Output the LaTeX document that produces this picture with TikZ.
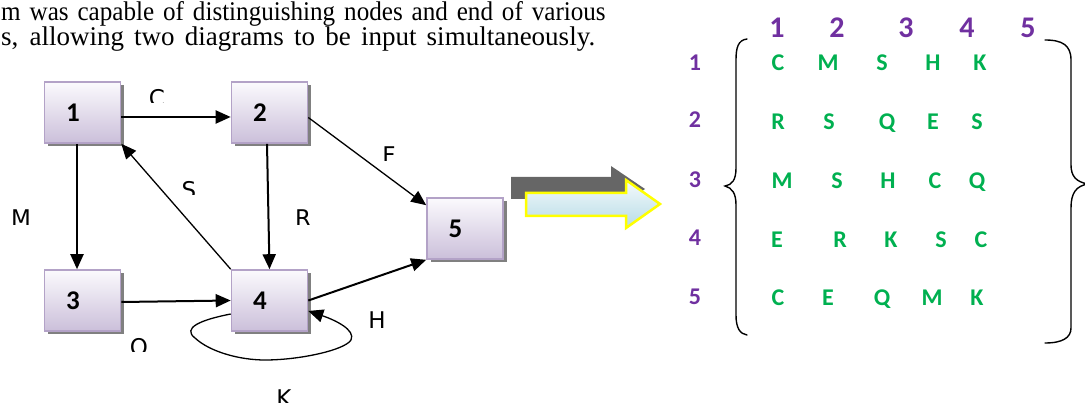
\documentclass[tikz,border=0pt]{standalone}
\usepackage{fontspec}
\setmainfont{Liberation Serif}
\newfontfamily\calib{Carlito}
\newfontfamily\labfont{DejaVu Sans}
\usetikzlibrary{arrows.meta,shadows}
\definecolor{boxtop}{HTML}{FBFAFD}
\definecolor{boxbot}{HTML}{CBBFDA}
\definecolor{boxline}{HTML}{B3A2C7}
\definecolor{mpurple}{HTML}{7030A0}
\definecolor{mgreen}{HTML}{00B050}
\definecolor{arrtop}{HTML}{F5FAFC}
\definecolor{arrbot}{HTML}{B6DCE6}
\definecolor{arrline}{HTML}{FFFF00}
\begin{document}
\begin{tikzpicture}[x=1pt,y=-1pt,
  gbox/.style={draw=boxline, line width=1.6pt, top color=boxtop, bottom color=boxbot,
    minimum width=76pt, minimum height=61pt, inner sep=0pt,
    font=\calib\bfseries\fontsize{27}{30}\selectfont,
    drop shadow={shadow xshift=3.5pt, shadow yshift=-3.5pt, fill=black!50, opacity=1}},
  thk/.style={line width=2pt, -{Triangle[length=15pt,width=13pt]}},
  thn/.style={line width=1.3pt, -{Triangle[length=15pt,width=13pt]}},
  elab/.style={font=\labfont\fontsize{23}{26}\selectfont, anchor=north, inner sep=0pt},
  toptext/.style={anchor=base west, inner sep=0pt, font=\fontsize{27}{30}\selectfont},
  hnum/.style={anchor=base, inner sep=0pt, text=mpurple, font=\calib\bfseries\fontsize{30}{33}\selectfont},
  rnum/.style={anchor=base, inner sep=0pt, text=mpurple, font=\calib\bfseries\fontsize{24}{27}\selectfont},
  glet/.style={anchor=base, inner sep=0pt, text=mgreen, font=\calib\bfseries\fontsize{24}{27}\selectfont},
  brace/.style={line width=1.4pt, line cap=round}
]
\useasboundingbox (0,0) rectangle (1085,403);

% top text
\node[toptext] (t1) at (1,21) {\scalebox{0.93}[1]{\makebox[650pt][s]{m was capable of distinguishing nodes and end of various}}};
\node[toptext] (t2) at (1,46) {\makebox[594pt][s]{s, allowing two diagrams to be input simultaneously.}};

% graph nodes
\node[gbox] (n1) at (82.5,112.5) {1\rule{19pt}{0pt}};
\node[gbox] (n2) at (269.5,112.5) {2\rule{19pt}{0pt}};
\node[gbox] (n3) at (82.5,300.5) {3\rule{19pt}{0pt}};
\node[gbox] (n4) at (269.5,300.5) {4\rule{19pt}{0pt}};
\node[gbox] (n5) at (465,228.5) {5\rule{19pt}{0pt}};

% edges
\draw[thk] ([yshift=-4.5pt]n1.east) -- ([yshift=-4.5pt]n2.west);
\draw[thk] ([xshift=-5.5pt]n1.south) -- ([xshift=-5.5pt]n3.north);
\draw[thk] ([xshift=-2.5pt]n2.south) -- (n4.north);
\draw[thn] (n4.north west) -- (n1.south east);
\draw[thn] ([yshift=-5pt]n2.east) -- ([yshift=-8pt]n5.north west);
\draw[thk] ([yshift=-1.5pt]n3.east) -- (n4.west);
\draw[thk] (n4.east) -- (n5.south west);
\coordinate (la) at ([yshift=-13.5pt]n4.west);
\coordinate (lb) at ([yshift=-10.5pt]n4.east);
\draw[thn] (la) .. controls (200,320) and (182,328) .. (195,338)
  .. controls (210,352) and (240,360) .. (265,360)
  .. controls (300,360) and (345,350) .. (351,340)
  .. controls (356,330) and (335,320) .. (lb);

% edge labels (clipped as in the picture)
\begin{scope}\clip (140,80) rectangle (175,103); \node[elab] (lC) at (157,89) {C}; \end{scope}
\begin{scope}\clip (175,170) rectangle (205,195); \node[elab] (lS) at (189,181) {S}; \end{scope}
\begin{scope}\clip (0,200) rectangle (40,225); \node[elab] (lM) at (21,210) {M}; \end{scope}
\begin{scope}\clip (290,200) rectangle (320,225); \node[elab] (lR) at (303,210) {R}; \end{scope}
\begin{scope}\clip (375,140) rectangle (405,161); \node[elab] (lF) at (389,147) {F}; \end{scope}
\begin{scope}\clip (125,330) rectangle (155,352); \node[elab] (lO) at (139,338) {O}; \end{scope}
\node[elab] (lH) at (377,312) {H};
\node[elab] (lK) at (284,390) {K};

% big arrow: shadow then body
\draw[fill=black!60, draw=none] (511,177) -- (611,177) -- (611,166) -- (645,189) -- (611,213) -- (611,199) -- (511,199) -- cycle;
\draw[draw=arrline, line width=2.5pt, top color=arrtop, bottom color=arrbot, line join=miter]
  (526,193) -- (626,193) -- (626,180) -- (660,204) -- (626,228) -- (626,216) -- (526,216) -- cycle;

% matrix header
\node[hnum] (h1) at (777,38) {1};
\node[hnum] (h2) at (837,38) {2};
\node[hnum] (h3) at (906,38) {3};
\node[hnum] (h4) at (967,38) {4};
\node[hnum] (h5) at (1028,38) {5};
% row numbers
\node[rnum] (r1) at (695,70.5) {1};
\node[rnum] (r2) at (695,128) {2};
\node[rnum] (r3) at (695,187.5) {3};
\node[rnum] (r4) at (695,245.5) {4};
\node[rnum] (r5) at (695,304.5) {5};
% letters
\node[glet] (m11) at (778,71) {C};
\node[glet] (m12) at (828,71) {M};
\node[glet] (m13) at (882,71) {S};
\node[glet] (m14) at (933,71) {H};
\node[glet] (m15) at (980,71) {K};
\node[glet] (m21) at (778,130) {R};
\node[glet] (m22) at (829,130) {S};
\node[glet] (m23) at (887,130) {Q};
\node[glet] (m24) at (933,130) {E};
\node[glet] (m25) at (977,130) {S};
\node[glet] (m31) at (782,189) {M};
\node[glet] (m32) at (837,189) {S};
\node[glet] (m33) at (888,189) {H};
\node[glet] (m34) at (935,189) {C};
\node[glet] (m35) at (977,189) {Q};
\node[glet] (m41) at (777,248) {E};
\node[glet] (m42) at (840,248) {R};
\node[glet] (m43) at (891,248) {K};
\node[glet] (m44) at (941,248) {S};
\node[glet] (m45) at (981,248) {C};
\node[glet] (m51) at (778,306) {C};
\node[glet] (m52) at (828,306) {E};
\node[glet] (m53) at (882,306) {Q};
\node[glet] (m54) at (932,306) {M};
\node[glet] (m55) at (977,306) {K};

% braces
\draw[brace] (747,39) .. controls (738,40) and (736,48) .. (736,60)
  -- (736,168) .. controls (736,180) and (732,185) .. (725,186)
  .. controls (732,188) and (736,193) .. (736,205)
  -- (736,315) .. controls (736,328) and (740,334) .. (747,335);
\draw[brace] (1045,40) .. controls (1062,40) and (1071,45) .. (1071,60)
  -- (1071,165) .. controls (1071,176) and (1076,182) .. (1088,184)
  .. controls (1076,186) and (1071,193) .. (1071,208)
  -- (1071,328) .. controls (1071,338) and (1062,343) .. (1045,343);
\end{tikzpicture}
\end{document}
